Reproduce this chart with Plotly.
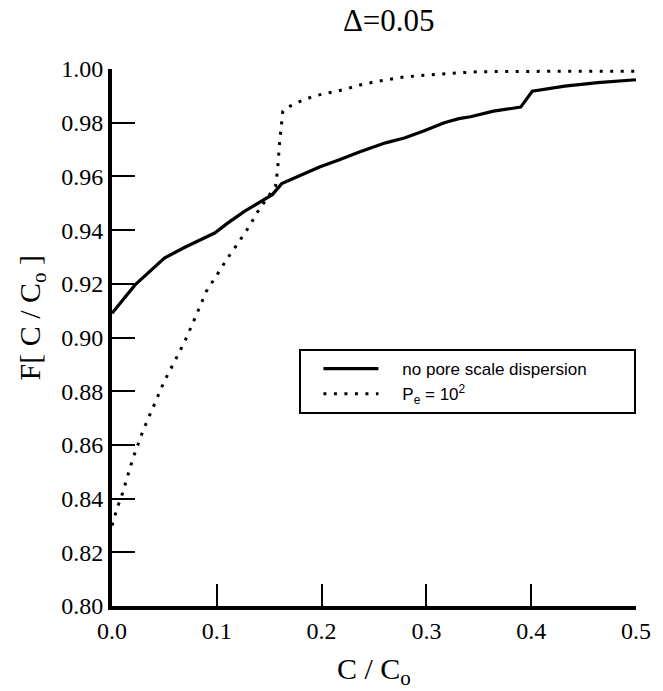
import plotly.graph_objects as go

# Cumulative distribution F[C/C0] for Δ = 0.05
conc_solid = [0.0, 0.022, 0.05, 0.07, 0.098, 0.11, 0.126, 0.142, 0.153, 0.162,
              0.18, 0.198, 0.217, 0.236, 0.261, 0.279, 0.298, 0.317, 0.331,
              0.342, 0.364, 0.390, 0.401, 0.432, 0.4635, 0.5]
f_solid = [0.909, 0.9196, 0.9296, 0.9337, 0.9389, 0.9425, 0.9469, 0.9507, 0.9532,
           0.9573, 0.9604, 0.9635, 0.9662, 0.9691, 0.9725, 0.9743, 0.9770, 0.9800,
           0.9815, 0.9822, 0.9843, 0.9858, 0.9917, 0.9936, 0.9949, 0.9960]

conc_pe = [0.0, 0.005, 0.01, 0.02, 0.03, 0.04, 0.05, 0.06, 0.07, 0.08, 0.09, 0.10,
           0.11, 0.12, 0.13, 0.14, 0.15, 0.156, 0.158, 0.160, 0.163, 0.17, 0.18,
           0.19, 0.20, 0.22, 0.24, 0.26, 0.28, 0.30, 0.32, 0.35, 0.40, 0.45, 0.50]
f_pe = [0.830, 0.8365, 0.842, 0.855, 0.8657, 0.8748, 0.8838, 0.8913, 0.8990, 0.9080,
        0.9172, 0.9232, 0.9294, 0.9350, 0.9408, 0.9475, 0.9530, 0.9563, 0.9625,
        0.9730, 0.9843, 0.9862, 0.9880, 0.9895, 0.9906, 0.9922, 0.9944, 0.9959,
        0.9971, 0.9978, 0.9983, 0.9990, 0.9992, 0.9992, 0.9992]

x_ticks = [0.0, 0.1, 0.2, 0.3, 0.4, 0.5]
x_tick_text = ["0.0", "0.1", "0.2", "0.3", "0.4", "0.5"]
y_ticks = [0.80, 0.82, 0.84, 0.86, 0.88, 0.90, 0.92, 0.94, 0.96, 0.98, 1.00]
y_tick_text = ["0.80", "0.82", "0.84", "0.86", "0.88", "0.90", "0.92", "0.94",
               "0.96", "0.98", "1.00"]

serif = "Liberation Serif"
sans = "Liberation Sans"
NB = "\u00a0"

fig = go.Figure()
fig.add_trace(go.Scatter(
    x=conc_solid, y=f_solid, mode="lines",
    name=NB * 4 + "no pore scale dispersion" + NB * 9,
    line=dict(color="black", width=3.2),
))
fig.add_trace(go.Scatter(
    x=conc_pe, y=f_pe, mode="lines",
    name=NB * 4 + "P<sub>e</sub> = 10<sup>2</sup>",
    line=dict(color="black", width=3, dash="3px,7.5px"),
))

W, H = 663, 691
L, R, T, B = 112, 17, 69, 85
pw, ph = W - L - R, H - T - B

axis_common = dict(showline=True, linewidth=4, linecolor="black",
                   showgrid=False, zeroline=False, tickcolor="black", tickwidth=2)

fig.update_layout(
    width=W, height=H,
    margin=dict(l=L, r=R, t=T, b=B, pad=0),
    paper_bgcolor="white", plot_bgcolor="white",
    title=dict(text="Δ=0.05", x=(394 - L) / pw, xref="paper", xanchor="center",
               y=1 - 20 / H, yanchor="middle",
               font=dict(family=serif, size=31, color="black")),
    showlegend=True,
    legend=dict(
        x=(303 - L) / pw, y=(H - B - 349) / ph, xanchor="left", yanchor="top",
        bordercolor="black", borderwidth=2, bgcolor="white",
        font=dict(family=sans, size=17, color="black"),
        itemwidth=55, tracegroupgap=0, indentation=17,
    ),
    xaxis=dict(
        range=[0, 0.5], tickvals=x_ticks, ticktext=x_tick_text,
        ticks="inside", ticklen=22,
        tickfont=dict(family=serif, size=24, color="black"),
        **axis_common,
    ),
    yaxis=dict(
        range=[0.8, 1.0], tickvals=y_ticks, ticktext=y_tick_text,
        ticks="inside", ticklen=23,
        tickfont=dict(family=serif, size=24, color="black"),
        **axis_common,
    ),
    # short outward stubs so the tick marks cross the axis lines
    xaxis2=dict(range=[0, 0.5], tickvals=x_ticks, overlaying="x", anchor="y",
                side="bottom", ticks="outside", ticklen=5, showticklabels=False,
                **axis_common),
    yaxis2=dict(range=[0.8, 1.0], tickvals=y_ticks, overlaying="y", anchor="x",
                side="left", ticks="outside", ticklen=6, showticklabels=False,
                **axis_common),
    annotations=[
        dict(text="C / C<sub>o</sub>", xref="paper", yref="paper",
             x=0.5, y=-(671 - (H - B)) / ph, xanchor="center", yanchor="middle",
             showarrow=False, font=dict(family=serif, size=30, color="black")),
        dict(text="F[ C / C<sub>o</sub> ]", xref="paper", yref="paper",
             x=(30 - L) / pw, y=(H - B - 318) / ph, xanchor="center",
             yanchor="middle", textangle=-90, showarrow=False,
             font=dict(family=serif, size=30, color="black")),
    ],
)

fig.write_html("out.html")
